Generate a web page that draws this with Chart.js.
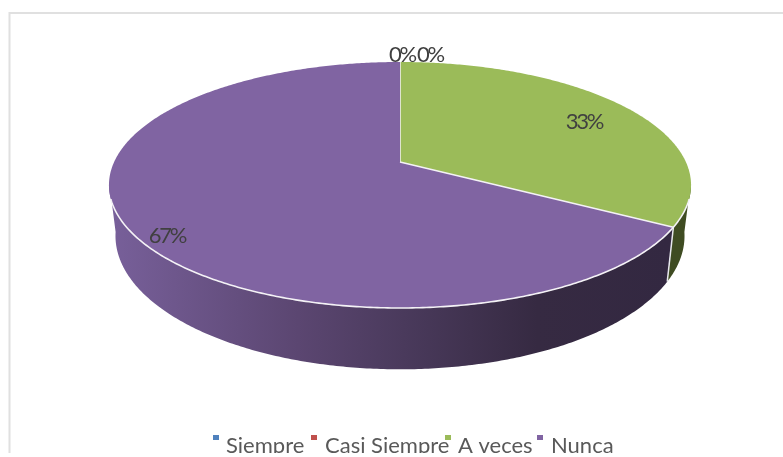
<!DOCTYPE html>
<html><head><meta charset="utf-8">
<style>html,body{margin:0;padding:0;background:#fff;overflow:hidden}
canvas{display:block}</style>
<script src="https://cdn.jsdelivr.net/npm/chart.js@4"></script>
</head><body><canvas id="c" width="783" height="453"></canvas>
<script>
const categories = ['Siempre', 'Casi Siempre', 'A veces', 'Nunca'];
const values = [0, 0, 33.3, 66.7];
const tickLabels = ['0%', '0%', '33%', '67%'];
const colors = ['#4F81BD', '#C0504D', '#9BBB59', '#8064A2'];
const wallColors = ['#2f4d71', '#733432', '#3f4c22', null];

const top3d = {cx: 400, cy: 162, a: 285.9, b: 118.7, k: -0.187};
const low3d = {cx: 400, cy: 211, a: 279.5, b: 128.7, k: -0.187};
function proj(p, ang) {
  const u = Math.cos(ang), v = Math.sin(ang), w = 1 + p.k * v;
  return [p.cx + p.a * u / w, p.cy + p.b * v / w];
}
function rimPath(ctx, p, s, e, first) {
  const n = Math.max(2, Math.ceil(Math.abs(e - s) / 0.01));
  for (let i = 0; i <= n; i++) {
    const q = proj(p, s + (e - s) * i / n);
    if (i === 0 && first) ctx.moveTo(q[0], q[1]); else ctx.lineTo(q[0], q[1]);
  }
}
const labelPos = [[402, 55], [430, 55], [584, 122], [167, 236]];
const legendBoxX = [213, 311, 445, 537];
const legendTextX = [226, 325, 458, 551];

const pie3d = {
  id: 'pie3d',
  beforeDraw(chart) {
    const ctx = chart.ctx;
    ctx.save();
    ctx.fillStyle = '#fff';
    ctx.fillRect(0, 0, 783, 457);
    ctx.strokeStyle = '#e0e0e0';
    ctx.lineWidth = 2;
    ctx.beginPath();
    ctx.moveTo(790, 13);
    ctx.lineTo(9.5, 13);
    ctx.lineTo(9.5, 460);
    ctx.stroke();
    ctx.restore();
  },
  beforeDatasetsDraw(chart) {
    const ctx = chart.ctx, arcs = chart.getDatasetMeta(0).data;
    const tan0 = Math.asin(-top3d.k);
    ctx.save();
    arcs.forEach((arc, i) => {
      if (arc.endAngle - arc.startAngle < 1e-4) return;
      const s = Math.max(arc.startAngle, tan0 - 0.03);
      const e = Math.min(arc.endAngle, Math.PI - tan0 + 0.03);
      if (e <= s) return;
      ctx.beginPath();
      rimPath(ctx, top3d, s, e, true);
      rimPath(ctx, low3d, e, s, false);
      ctx.closePath();
      if (wallColors[i]) ctx.fillStyle = wallColors[i];
      else {
        const g = ctx.createLinearGradient(115, 0, 670, 0);
        g.addColorStop(0, '#775f99');
        g.addColorStop(0.33, '#5b4671');
        g.addColorStop(0.52, '#4a3a5c');
        g.addColorStop(0.76, '#362a42');
        g.addColorStop(1, '#332841');
        ctx.fillStyle = g;
      }
      ctx.fill();
      if (s === arc.startAngle) {
        const a = proj(top3d, s), b = proj(low3d, s);
        ctx.strokeStyle = '#e8e8ee';
        ctx.lineWidth = 1.5;
        ctx.beginPath(); ctx.moveTo(a[0], a[1]); ctx.lineTo(b[0], b[1]); ctx.stroke();
      }
    });
    ctx.restore();
  },
  beforeDatasetDraw(chart) {
    const ctx = chart.ctx, arcs = chart.getDatasetMeta(0).data;
    ctx.save();
    arcs.forEach((arc, i) => {
      if (arc.endAngle - arc.startAngle < 1e-4) return;
      ctx.beginPath();
      ctx.moveTo(top3d.cx, top3d.cy);
      rimPath(ctx, top3d, arc.startAngle, arc.endAngle, false);
      ctx.closePath();
      ctx.fillStyle = colors[i];
      ctx.fill();
      ctx.strokeStyle = '#f4f2f6';
      ctx.lineWidth = 1.5;
      ctx.lineJoin = 'round';
      ctx.beginPath();
      ctx.moveTo(top3d.cx, top3d.cy);
      const p0 = proj(top3d, arc.startAngle);
      ctx.lineTo(p0[0], p0[1]);
      ctx.stroke();
    });
    ctx.beginPath();
    rimPath(ctx, top3d, 0.30, Math.PI - 0.30, true);
    ctx.strokeStyle = '#f4f2f6';
    ctx.lineWidth = 1.6;
    ctx.stroke();
    ctx.fillStyle = '#404040';
    ctx.font = '22px Lato, Carlito, sans-serif';
    ctx.textAlign = 'center';
    ctx.textBaseline = 'middle';
    if ('letterSpacing' in ctx) ctx.letterSpacing = '-2.2px';
    tickLabels.forEach((t, i) => ctx.fillText(t, labelPos[i][0], labelPos[i][1]));
    ctx.restore();
    return false;
  },
  afterDraw(chart) {
    const ctx = chart.ctx;
    ctx.save();
    ctx.font = '22px Lato, Carlito, sans-serif';
    ctx.textBaseline = 'alphabetic';
    categories.forEach((t, i) => {
      ctx.fillStyle = '#595959';
      ctx.fillText(t, legendTextX[i], 453);
    });
    categories.forEach((t, i) => {
      ctx.fillStyle = colors[i];
      ctx.fillRect(legendBoxX[i], 435, 6, 5);
    });
    ctx.restore();
  }
};

new Chart(document.getElementById('c'), {
  type: 'pie',
  data: {labels: categories, datasets: [{data: values, backgroundColor: colors, borderWidth: 0}]},
  options: {
    responsive: false,
    animation: false,
    devicePixelRatio: 1,
    rotation: 0,
    plugins: {
      title: {display: false},
      tooltip: {enabled: false},
      legend: {display: false}
    }
  },
  plugins: [pie3d]
});
</script></body></html>
